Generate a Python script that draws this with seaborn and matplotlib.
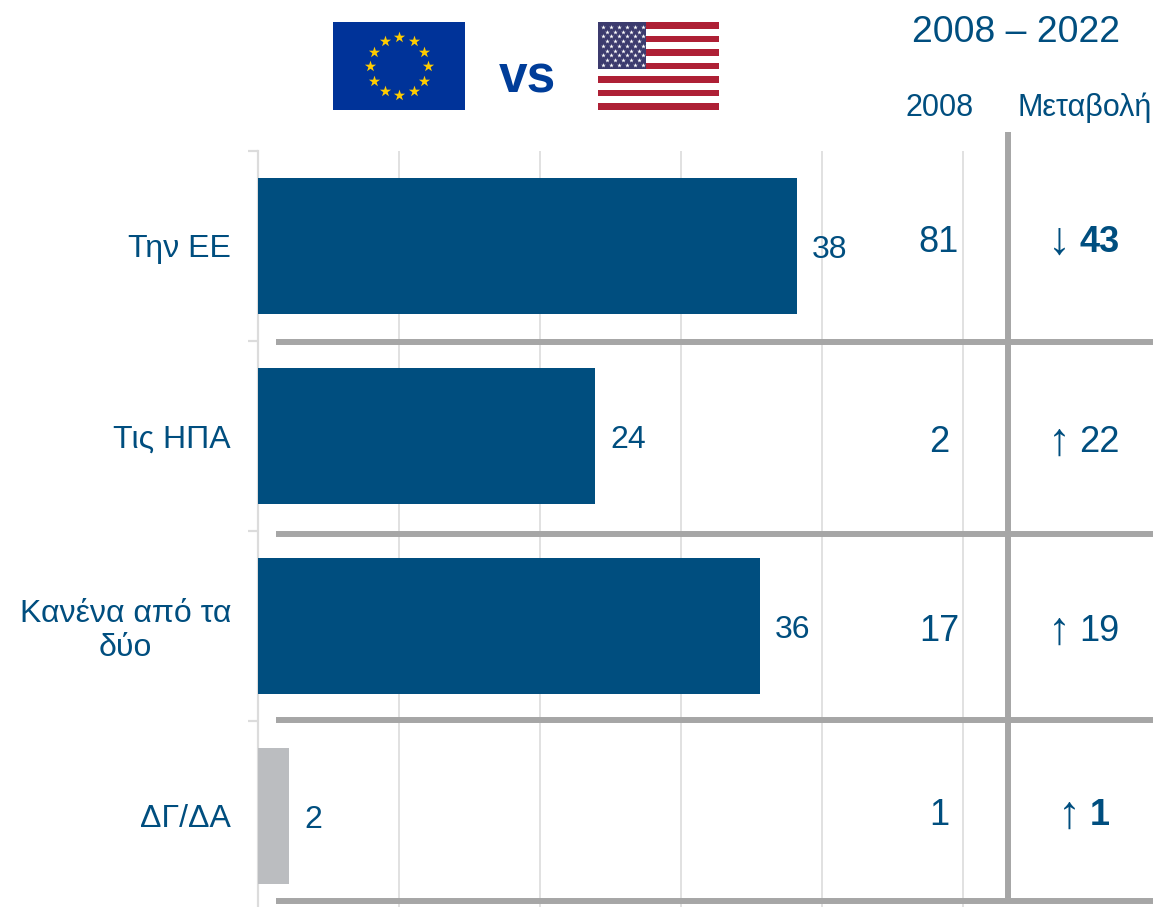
import numpy as np
import pandas as pd
import matplotlib
matplotlib.use("Agg")
import matplotlib.pyplot as plt
from matplotlib.patches import Rectangle
import seaborn as sns

categories = ["Την ΕΕ", "Τις ΗΠΑ", "Κανένα από τα\nδύο", "ΔΓ/ΔΑ"]
share_2022 = [38.2, 23.9, 35.6, 2.2]
share_2008 = [81, 2, 17, 1]
change_arrow = ["↓", "↑", "↑", "↑"]
change_value = [43, 22, 19, 1]
change_bold = [True, False, False, True]

BLUE = "#004E7F"
GREY_BAR = "#BBBDC0"
SEP = "#A6A6A6"
LIGHT = "#DCDCDC"
W, H = 1153, 907

sns.set_theme(style="white")
plt.rcParams["font.family"] = ["Liberation Sans", "DejaVu Sans"]

df = pd.DataFrame({"category": categories, "share": share_2022})
colors = dict(zip(categories, [BLUE, BLUE, BLUE, GREY_BAR]))

fig = plt.figure(figsize=(W / 100, H / 100), dpi=100)
ax = fig.add_axes([258 / W, 0, (W - 258) / W, (H - 151) / H])
sns.barplot(data=df, y="category", x="share", hue="category", palette=colors,
            width=0.715, saturation=1, legend=False, ax=ax, zorder=3, lw=0)

ax.set_xlim(0, (W - 258) / 14.1)
ax.set_ylim(3.479, -0.5)
ax.set_xlabel("")
ax.set_ylabel("")
sns.despine(ax=ax, top=True, right=True, bottom=True)
ax.spines["left"].set_color(LIGHT)
ax.spines["left"].set_linewidth(1.6)

ax.set_xticks([10, 20, 30, 40, 50])
ax.set_xticklabels([])
ax.tick_params(axis="x", length=0)
ax.grid(axis="x", color=LIGHT, lw=1.2, zorder=0)
ax.set_axisbelow(True)

ax.set_yticks(np.arange(4))
ax.set_yticklabels(categories, fontsize=23, color=BLUE, multialignment="center",
                   linespacing=1.15)
ax.tick_params(axis="y", which="major", length=0, pad=19.5)
ax.set_yticks([-0.5, 0.5, 1.5, 2.5], minor=True)
ax.tick_params(axis="y", which="minor", length=7, width=1.6, color=LIGHT, left=True)

for cont in ax.containers:
    for lab in ax.bar_label(cont, fmt="%.0f", padding=11, fontsize=23, color=BLUE):
        lab.xyann = (11, -3)

# separators of the table part
sep_x0 = (276 - 258) / 14.1
sep_y = [0.505, 1.516, 2.495, 3.45]
for y in sep_y:
    ax.plot([sep_x0, ax.get_xlim()[1]], [y, y], color=SEP, lw=4.3, zorder=2,
            solid_capstyle="butt", clip_on=False)
ax.plot([53.2, 53.2], [-0.6, 3.43], color=SEP, lw=4.3, zorder=2,
        solid_capstyle="butt", clip_on=False)

# table columns
col_2008 = (939 - 258) / 14.1
col_arrow = [(1059 - 258) / 14.1] * 3 + [(1069 - 258) / 14.1]
col_change = [(1079 - 258) / 14.1] * 3 + [(1090 - 258) / 14.1]
dy_2008 = [-0.02, 0.036, 0.03, -0.002]
for i in range(4):
    ax.text(col_2008, i + dy_2008[i], str(share_2008[i]), fontsize=26, color=BLUE,
            ha="center", va="center")
    ax.text(col_arrow[i], i + dy_2008[i], change_arrow[i], fontsize=33, color=BLUE,
            ha="center", va="center")
    ax.text(col_change[i], i + dy_2008[i], str(change_value[i]), fontsize=26, color=BLUE,
            ha="left", va="center", fontweight="bold" if change_bold[i] else "normal")

# header
fig.text(1016 / W, 1 - 33 / H, "2008 – 2022", fontsize=26.8, color=BLUE, ha="center", va="center")
fig.text(940 / W, 1 - 108 / H, "2008", fontsize=22, color=BLUE, ha="center", va="center")
fig.text(1085 / W, 1 - 108 / H, "Μεταβολή", fontsize=22, color=BLUE, ha="center", va="center")
fig.text(527 / W, 1 - 79 / H, "vs", fontsize=37, color="#003D99", ha="center", va="center", fontweight="bold")


def flag_axes(x0, y0, x1, y1):
    a = fig.add_axes([x0 / W, 1 - y1 / H, (x1 - x0) / W, (y1 - y0) / H])
    a.set_xlim(x0, x1)
    a.set_ylim(y1, y0)
    a.axis("off")
    return a


eu = flag_axes(333, 22, 465, 110)
eu.add_patch(Rectangle((333, 22), 132, 88, color="#003399", lw=0))
ang = np.arange(12) * np.pi / 6
eu.scatter(399 + 29 * np.cos(ang), 66 + 29 * np.sin(ang), marker="*", s=72, color="#FFCC00", lw=0)

us = flag_axes(598, 22, 719, 110)
band = 88 / 13
for k in range(13):
    us.add_patch(Rectangle((598, 22 + k * band), 121, band, lw=0,
                           color="#AE2035" if k % 2 == 0 else "#FFFFFF"))
us.add_patch(Rectangle((598, 22), 48, 7 * band, color="#3C3B6E", lw=0))
for r in range(9):
    n = 6 if r % 2 == 0 else 5
    xs = 603 + (4 if r % 2 else 0) + np.arange(n) * 8
    us.scatter(xs, [27 + r * 4.7] * n, marker="*", s=12, color="white", lw=0)

fig.savefig("out.png", dpi=100)
